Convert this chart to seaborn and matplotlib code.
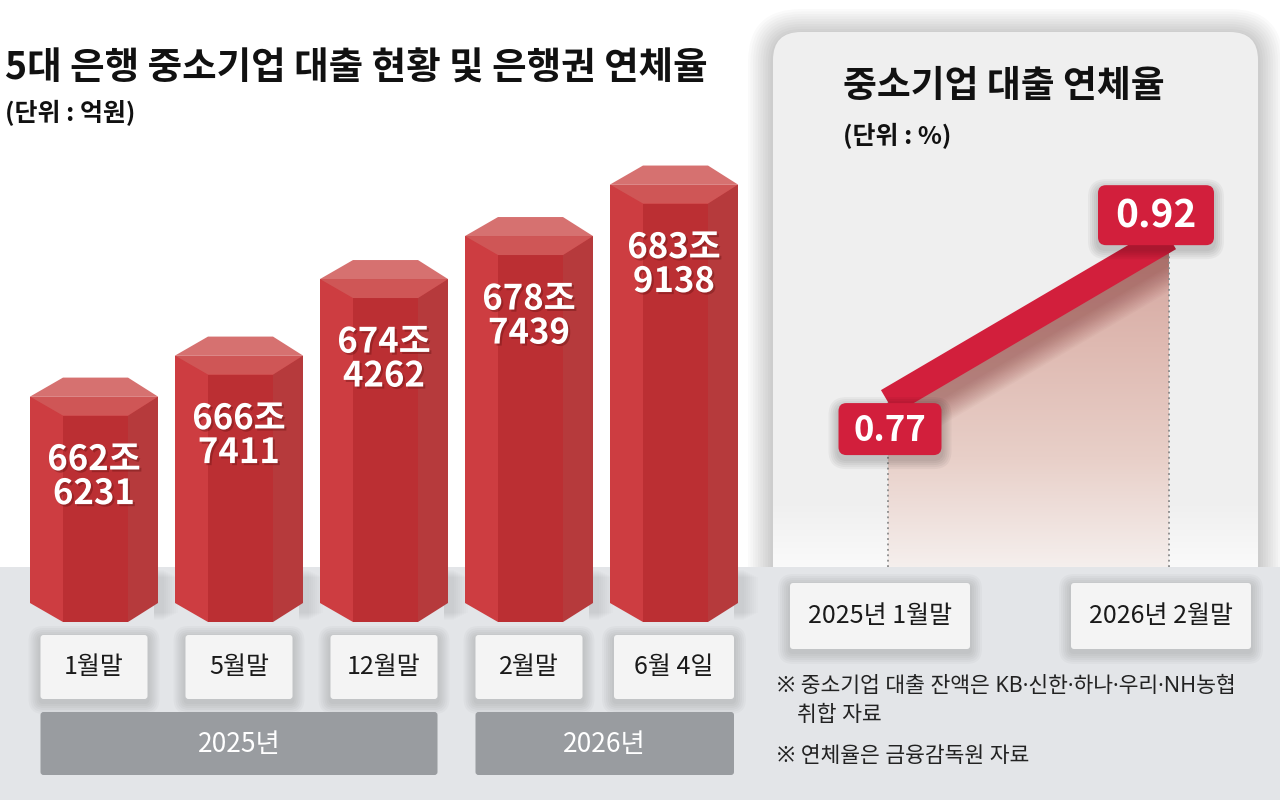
import numpy as np
import pandas as pd
import matplotlib
matplotlib.use("Agg")
import matplotlib.pyplot as plt
import matplotlib.patheffects as pe
from matplotlib.patches import Polygon, Rectangle, FancyBboxPatch
from matplotlib.colors import LinearSegmentedColormap
from matplotlib.transforms import offset_copy
import seaborn as sns

# ---------------- data ----------------
months = ["1월말", "5월말", "12월말", "2월말", "6월 4일"]
month_year = ["2025년", "2025년", "2025년", "2026년", "2026년"]
years = ["2025년", "2026년"]
loans_eok = [6626231, 6667411, 6744262, 6787439, 6839138]   # 억원

rate_labels = ["2025년 1월말", "2026년 2월말"]
rates = [0.77, 0.92]                                          # %

title = "5대 은행 중소기업 대출 현황 및 은행권 연체율"
unit_left = "(단위 : 억원)"
title_right = "중소기업 대출 연체율"
unit_right = "(단위 : %)"
notes = ["※ 중소기업 대출 잔액은 KB·신한·하나·우리·NH농협", "취합 자료", "※ 연체율은 금융감독원 자료"]

# ---------------- style ----------------
sns.set_theme(style="white")
plt.rcParams['font.family'] = ['Noto Sans CJK KR', 'DejaVu Sans']
note_family = ['Noto Sans', 'Noto Sans CJK KR', 'DejaVu Sans']

W, H = 1280, 805
fig = plt.figure(figsize=(12.8, 8.05), dpi=100)
fig.patch.set_facecolor("white")


def px_axes(l, t, r, b, z=1):
    ax = fig.add_axes([l / W, 1 - b / H, (r - l) / W, (b - t) / H])
    ax.set_zorder(z)
    return ax


bg = px_axes(0, 0, W, H, z=0)
bg.set_xlim(0, W)
bg.set_ylim(H, 0)
bg.axis("off")

ov = px_axes(0, 0, W, H, z=5)
ov.set_xlim(0, W)
ov.set_ylim(H, 0)
ov.axis("off")


def soft_shadow(ax, x, y, w, h, r, layers=6, spread=2.0, dy=3, alpha=0.025, z=3):
    for k in range(layers, 0, -1):
        s = k * spread
        ax.add_patch(FancyBboxPatch((x - s, y - s + dy), w + 2 * s, h + 2 * s,
                                    boxstyle=f"round,pad=0,rounding_size={r + s}",
                                    fc="black", ec="none", alpha=alpha, zorder=z))


def box(ax, x, y, w, h, fc, r=3, z=4):
    soft_shadow(ax, x, y, w, h, r, z=z - 0.5)
    ax.add_patch(FancyBboxPatch((x, y), w, h, boxstyle=f"round,pad=0,rounding_size={r}",
                                fc=fc, ec="none", zorder=z))


# right panel
soft_shadow(bg, 773, 32, 485, 560, 28, layers=10, spread=2.5, dy=2, alpha=0.02, z=0.5)
bg.add_patch(FancyBboxPatch((773, 32), 485, 560, boxstyle="round,pad=0,rounding_size=28",
                            fc="#efefef", ec="none", zorder=0.8))
fade = np.linspace(0, 1, 100).reshape(-1, 1)
bg.imshow(fade, extent=[773, 1258, 500, 567], cmap=LinearSegmentedColormap.from_list(
    "f", [(1, 1, 1, 0), (1, 1, 1, 0.7)]), aspect="auto", origin="lower", zorder=1)

# gray band
bg.add_patch(Rectangle((0, 567), W, 233, fc="#e3e5e8", ec="none", zorder=2))

# titles
bg.text(5, 68, title, fontsize=27, fontweight="bold", va="center", ha="left", color="#111")
bg.text(5, 113, unit_left, fontsize=18, fontweight="bold", va="center", ha="left", color="#111")
bg.text(843, 87, title_right, fontsize=26.5, fontweight="bold", va="center", ha="left", color="#111")
bg.text(843, 136, unit_right, fontsize=18, fontweight="bold", va="center", ha="left", color="#111")

# ---------------- bar chart (hex prisms) ----------------
axb = px_axes(21.5, 100, 746.5, 603, z=1)
px_per = 9.96                     # pixels per 조
lo = 641.9
axb.set_ylim(lo, lo + 503 / px_per)

df = pd.DataFrame({"month": months, "loan": np.array(loans_eok) / 10000})
sns.barplot(data=df, x="month", y="loan", ax=axb, width=128 / 145,
            color="#cd3c40", saturation=1, linewidth=0)
axb.set_xlim(-0.5, 4.5)
axb.axis("off")

d = 19 / px_per
base = lo
shadow_fx = [pe.withSimplePatchShadow(offset=(1.5, -1.5), shadow_rgbFace="#5a0d0d", alpha=0.35)]
centers_px = []
for i, (p, v, e) in enumerate(zip(axb.patches, df["loan"], loans_eok)):
    x0 = p.get_x()
    w = p.get_width()
    x1 = x0 + w
    xa = x0 + w * 33 / 128
    xb = x0 + w * 98 / 128
    kw = dict(ec="none", clip_on=False, zorder=3)
    axb.add_patch(Polygon([(x0, v), (xa, v - d), (xa, base - d), (x0, base)], fc="#cd3d41", **kw))
    axb.add_patch(Polygon([(xa, v - d), (xb, v - d), (xb, base - d), (xa, base - d)], fc="#bb2f33", **kw))
    axb.add_patch(Polygon([(xb, v - d), (x1, v), (x1, base), (xb, base - d)], fc="#b63a3c", **kw))
    axb.add_patch(Polygon([(x0, v), (xa, v + d), (xb, v + d), (x1, v)], fc="#d67170", **kw))
    axb.add_patch(Polygon([(x0, v), (x1, v), (xb, v - d), (xa, v - d)], fc="#cf5656", **kw))
    axb.annotate(f"{e // 10000}조", (i, v), xytext=(0, -63), textcoords="offset pixels",
                 ha="center", va="center", color="white", fontsize=25, fontweight="bold",
                 zorder=4, path_effects=shadow_fx)
    axb.annotate(f"{e % 10000}", (i, v), xytext=(0, -97), textcoords="offset pixels",
                 ha="center", va="center", color="white", fontsize=25, fontweight="bold",
                 zorder=4, path_effects=shadow_fx)
    cx = bg.transData.inverted().transform(axb.transData.transform((x0 + w / 2, lo)))[0]
    centers_px.append(cx)
    # soft shadow of the prism on the gray band
    sx = bg.transData.inverted().transform(axb.transData.transform((x1, lo)))[0]
    for k in range(8):
        bg.add_patch(Rectangle((sx - 4, 570 + k), 10 + 2 * k, 50 - 2 * k, fc="black",
                               ec="none", alpha=0.012, zorder=2.5))

# month boxes and year bars
spans = {}
for cx, lab, yr in zip(centers_px, months, month_year):
    bw = 120 if " " in lab else 107
    box(bg, cx - bw / 2, 635, bw, 64, "#f4f4f4")
    bg.text(cx, 667, lab, fontsize=18, ha="center", va="center", color="#1a1a1a", zorder=5)
    l, r = spans.get(yr, (1e9, -1e9))
    spans[yr] = (min(l, cx - bw / 2), max(r, cx + bw / 2))

for yr in years:
    l, r = spans[yr]
    bg.add_patch(FancyBboxPatch((l, 712), r - l, 63, boxstyle="round,pad=0,rounding_size=3",
                                fc="#999ca0", ec="none", zorder=4))
    bg.text((l + r) / 2, 744, yr, fontsize=19, ha="center", va="center", color="white", zorder=5)

# ---------------- line chart ----------------
axl = px_axes(800, 180, 1255, 567, z=2)
xs = np.arange(len(rates))
ylo = 0.62

fill = axl.fill_between(xs, rates, ylo, color="none", lw=0)
clip = fill.get_paths()[0]
grad = np.linspace(0, 1, 256).reshape(-1, 1)
cmap = LinearSegmentedColormap.from_list("g", ["#f5efed", "#e8cfc8", "#dfbab2", "#d3a49d"])
im = axl.imshow(grad, extent=[xs[0], xs[-1], ylo, max(rates)], aspect="auto",
                origin="lower", cmap=cmap, zorder=1)
im.set_clip_path(clip, transform=axl.transData)

tr = offset_copy(axl.transData, fig=fig, x=4, y=-12, units="dots")
for lw in np.linspace(50, 18, 16):
    ln, = axl.plot(xs, rates, color="#7a2a2a", lw=lw, alpha=0.03, transform=tr,
                   solid_capstyle="butt", zorder=2)
    ln.set_clip_path(clip, transform=axl.transData)

axl.vlines(xs, ylo, rates, colors="#8a8a8a", linestyles=(0, (1, 2)), lw=1.3, zorder=2)
sns.lineplot(x=xs, y=rates, ax=axl, color="#d21f3c", linewidth=20, zorder=3)
axl.lines[-1].set_solid_capstyle("butt")
axl.set_xlim(-88 / 281, 367 / 281)
axl.set_ylim(ylo, 0.972)
axl.axis("off")

label_off = [(2, 27), (-13, -22)]
label_box = [(103, 52), (116, 60)]
label_fs = [25, 28]
for x, v, (ox, oy), (bw, bh), fs in zip(xs, rates, label_off, label_box, label_fs):
    px, py = ov.transData.inverted().transform(axl.transData.transform((x, v)))
    cx, cy = px + ox, py + oy
    soft_shadow(ov, cx - bw / 2, cy - bh / 2, bw, bh, 8, layers=5, spread=2, dy=4, alpha=0.04)
    ov.add_patch(FancyBboxPatch((cx - bw / 2, cy - bh / 2), bw, bh,
                                boxstyle="round,pad=0,rounding_size=8", fc="#d21f3c",
                                ec="none", zorder=4))
    ov.text(cx, cy + 1, f"{v:.2f}", fontsize=fs, fontweight="bold", color="white",
            ha="center", va="center", zorder=5)

for x, lab in zip(xs, rate_labels):
    px = ov.transData.inverted().transform(axl.transData.transform((x, ylo)))[0] - 8
    box(ov, px - 90, 583, 180, 66, "#f4f4f4")
    ov.text(px, 616, lab, fontsize=18, ha="center", va="center", color="#1a1a1a", zorder=5)

# footnotes
ov.text(777, 686, notes[0], fontsize=15.5, ha="left", va="center", color="#222", family=note_family)
ov.text(797, 715, notes[1], fontsize=15.5, ha="left", va="center", color="#222", family=note_family)
ov.text(777, 756, notes[2], fontsize=15.5, ha="left", va="center", color="#222", family=note_family)

fig.savefig("out.png", dpi=100)
